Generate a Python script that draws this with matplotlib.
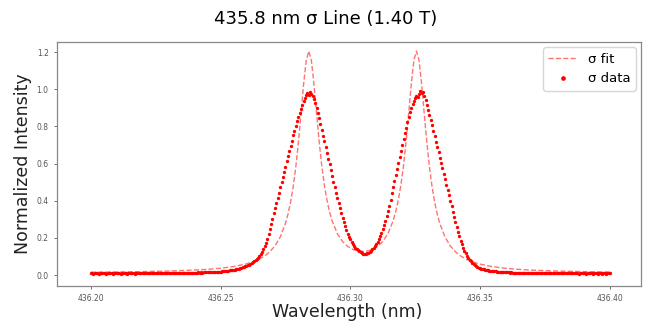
import numpy as np
import matplotlib
matplotlib.use("Agg")
import matplotlib.pyplot as plt

# --- sigma line fit ---
fit_wavelength = [
    436.200, 436.210, 436.220, 436.230, 436.240, 436.245, 436.250, 436.255,
    436.260, 436.264, 436.267, 436.269, 436.271, 436.273, 436.275, 436.276,
    436.277, 436.278, 436.279, 436.280, 436.281, 436.282, 436.283, 436.284,
    436.285, 436.286, 436.287, 436.288, 436.289, 436.290, 436.291, 436.292,
    436.293, 436.295, 436.297, 436.299, 436.301, 436.303, 436.30475,
    436.3065, 436.3085, 436.3105, 436.3125, 436.3145, 436.3165, 436.3175,
    436.3185, 436.3195, 436.3205, 436.3215, 436.3225, 436.3235, 436.3245,
    436.3255, 436.3265, 436.3275, 436.3285, 436.3295, 436.3305, 436.3315,
    436.3325, 436.3335, 436.3345, 436.3365, 436.3385, 436.3405, 436.3425,
    436.3455, 436.3495, 436.3545, 436.3595, 436.3645, 436.3695, 436.3795,
    436.3895, 436.400,
]
fit_intensity = [
    0.0155, 0.0168, 0.0189, 0.0220, 0.0272, 0.0313, 0.0372, 0.0462,
    0.0606, 0.0800, 0.1032, 0.1258, 0.1579, 0.2050, 0.2774, 0.3283,
    0.3933, 0.4762, 0.5819, 0.7130, 0.8668, 1.0262, 1.1545, 1.2053,
    1.1560, 1.0291, 0.8712, 0.7189, 0.5893, 0.4853, 0.4040, 0.3408,
    0.2917, 0.2233, 0.1809, 0.1542, 0.1381, 0.1298, 0.1275,
    0.1298, 0.1381, 0.1542, 0.1809, 0.2233, 0.2917, 0.3408,
    0.4040, 0.4853, 0.5893, 0.7189, 0.8712, 1.0291, 1.1560,
    1.2053, 1.1545, 1.0262, 0.8668, 0.7130, 0.5819, 0.4762,
    0.3933, 0.3283, 0.2774, 0.2050, 0.1579, 0.1258, 0.1032,
    0.0800, 0.0606, 0.0462, 0.0372, 0.0313, 0.0272, 0.0220,
    0.0189, 0.0167,
]

# --- measured sigma data, 0.0005 nm steps starting at 436.200 nm ---
data_start = 436.200
data_step = 0.0005
data_intensity = [
    0.009, 0.010, 0.008, 0.009, 0.010, 0.009, 0.008, 0.010, 0.009, 0.009,
    0.010, 0.009, 0.008, 0.009, 0.010, 0.009, 0.009, 0.008, 0.010, 0.009,
    0.009, 0.010, 0.009, 0.008, 0.010, 0.009, 0.010, 0.009, 0.008, 0.010,
    0.009, 0.010, 0.009, 0.010, 0.008, 0.010, 0.009, 0.010, 0.011, 0.009,
    0.010, 0.009, 0.011, 0.010, 0.009, 0.011, 0.010, 0.010, 0.009, 0.011,
    0.010, 0.011, 0.009, 0.011, 0.010, 0.012, 0.010, 0.011, 0.012, 0.010,
    0.011, 0.012, 0.010, 0.012, 0.011, 0.012, 0.011, 0.013, 0.011, 0.012,
    0.012, 0.011, 0.013, 0.012, 0.013, 0.012, 0.014, 0.012, 0.013, 0.014,
    0.013, 0.014, 0.013, 0.015, 0.014, 0.015, 0.014, 0.016, 0.015, 0.016,
    0.016, 0.015, 0.017, 0.016, 0.017, 0.018, 0.017, 0.018, 0.019, 0.018,
    0.019, 0.020, 0.021, 0.021, 0.022, 0.023, 0.024, 0.025, 0.026, 0.027,
    0.028, 0.030, 0.031, 0.033, 0.035, 0.037, 0.039, 0.042, 0.044, 0.047,
    0.050, 0.053, 0.057, 0.061, 0.066, 0.071, 0.076, 0.082, 0.088, 0.094,
    0.102, 0.112, 0.124, 0.138, 0.155, 0.174, 0.196, 0.221, 0.248, 0.276,
    0.304, 0.332, 0.360, 0.388, 0.416, 0.444, 0.472, 0.500, 0.528, 0.556,
    0.584, 0.612, 0.640, 0.668, 0.696, 0.724, 0.752, 0.778, 0.803, 0.827,
    0.850, 0.873, 0.895, 0.915, 0.935, 0.955, 0.968, 0.978, 0.972, 0.985,
    0.976, 0.962, 0.948, 0.925, 0.900, 0.872, 0.843, 0.813, 0.782, 0.751,
    0.720, 0.689, 0.658, 0.627, 0.596, 0.565, 0.534, 0.503, 0.473, 0.443,
    0.414, 0.386, 0.359, 0.333, 0.308, 0.285, 0.263, 0.243, 0.224, 0.207,
    0.192, 0.179, 0.167, 0.157, 0.148, 0.140, 0.134, 0.128, 0.123, 0.119,
    0.115, 0.113, 0.114, 0.117, 0.121, 0.126, 0.132, 0.139, 0.147, 0.156,
    0.166, 0.178, 0.192, 0.208, 0.226, 0.246, 0.268, 0.292, 0.318, 0.345,
    0.374, 0.407, 0.440, 0.473, 0.506, 0.539, 0.572, 0.605, 0.638, 0.670,
    0.702, 0.733, 0.763, 0.792, 0.825, 0.853, 0.878, 0.900, 0.920, 0.938,
    0.952, 0.965, 0.958, 0.975, 0.990, 0.982, 0.988, 0.965, 0.945, 0.918,
    0.890, 0.862, 0.834, 0.806, 0.777, 0.748, 0.719, 0.690, 0.661, 0.632,
    0.603, 0.574, 0.545, 0.516, 0.487, 0.458, 0.429, 0.400, 0.371, 0.342,
    0.313, 0.285, 0.258, 0.232, 0.208, 0.186, 0.166, 0.148, 0.132, 0.118,
    0.105, 0.094, 0.084, 0.075, 0.067, 0.060, 0.054, 0.049, 0.045, 0.041,
    0.038, 0.035, 0.033, 0.031, 0.029, 0.027, 0.026, 0.024, 0.023, 0.022,
    0.021, 0.020, 0.020, 0.019, 0.018, 0.018, 0.017, 0.017, 0.016, 0.016,
    0.015, 0.016, 0.015, 0.014, 0.015, 0.014, 0.014, 0.013, 0.014, 0.013,
    0.013, 0.014, 0.012, 0.013, 0.012, 0.013, 0.012, 0.011, 0.012, 0.013,
    0.012, 0.011, 0.012, 0.011, 0.012, 0.010, 0.011, 0.012, 0.011, 0.010,
    0.011, 0.010, 0.012, 0.011, 0.010, 0.011, 0.010, 0.011, 0.009, 0.010,
    0.011, 0.010, 0.009, 0.011, 0.010, 0.009, 0.010, 0.011, 0.009, 0.010,
    0.010, 0.009, 0.011, 0.010, 0.009, 0.010, 0.008, 0.010, 0.009, 0.010,
    0.009, 0.010, 0.008, 0.009, 0.010, 0.009, 0.010, 0.008, 0.009, 0.010,
    0.009, 0.008, 0.010, 0.009, 0.008, 0.010, 0.009, 0.008, 0.009, 0.010,
    0.009,
]
data_wavelength = np.round(data_start + data_step * np.arange(len(data_intensity)), 4)

x_ticks = [436.20, 436.25, 436.30, 436.35, 436.40]
y_ticks = [0.0, 0.2, 0.4, 0.6, 0.8, 1.0, 1.2]

fig = plt.figure(figsize=(6.51, 3.24), dpi=100)
ax = fig.add_axes([0.0876, 0.117, 0.897, 0.753])

ax.plot(fit_wavelength, fit_intensity, '--', color='red', alpha=0.55,
        linewidth=1.0, label='σ fit')
ax.plot(data_wavelength, data_intensity, 'o', color='red', markersize=2.4,
        markeredgewidth=0, label='σ data')

ax.set_xlim(436.187, 436.412)
ax.set_ylim(-0.059, 1.254)
ax.set_xticks(x_ticks)
ax.set_xticklabels([f"{t:.2f}" for t in x_ticks])
ax.set_yticks(y_ticks)
ax.tick_params(labelsize=5.5, colors='#555555', length=2.5, width=0.6)
for sp in ax.spines.values():
    sp.set_color('#888888')
    sp.set_linewidth(0.9)

# x label sits tight under the tick labels, as in the original
fig.text(0.534, 0.036, 'Wavelength (nm)', fontsize=12.5, color='#222222',
         ha='center', va='center')
ax.set_ylabel('Normalized Intensity', fontsize=12.5, color='#222222', labelpad=3)
fig.suptitle('435.8 nm σ Line (1.40 T)', fontsize=13, y=0.97)

ax.legend(loc='upper right', fontsize=9.5, markerscale=1.4, handlelength=2.2,
          borderaxespad=0.4)

fig.savefig('out.png', dpi=100)
